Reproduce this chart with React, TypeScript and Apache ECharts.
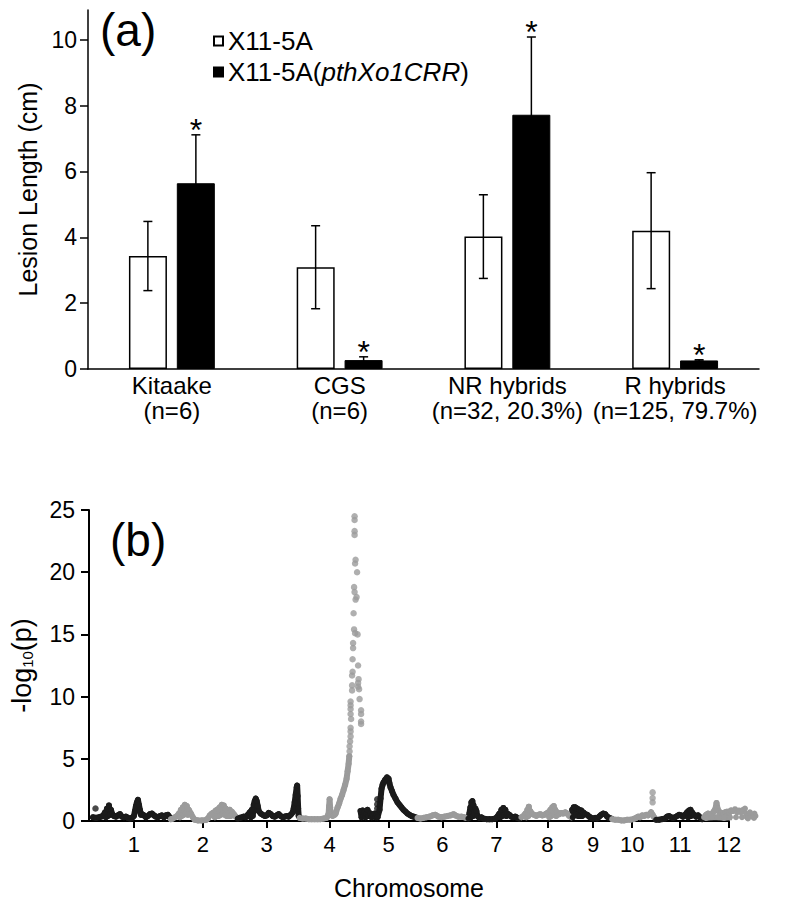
import React, { useEffect, useRef } from 'react';
import * as echarts from 'echarts';

const FONT = '"Liberation Sans", Arial, Helvetica, sans-serif';

// ---------- Panel (a): lesion length ----------
const CATEGORIES = ['Kitaake\n(n=6)', 'CGS\n(n=6)', 'NR hybrids\n(n=32, 20.3%)', 'R hybrids\n(n=125, 79.7%)'];
const SERIES_NAMES = ['X11-5A', 'X11-5A(pthXo1CRR)'];
const WT_MEAN = [3.43, 3.09, 4.02, 4.2];
const WT_ERR = [1.05, 1.26, 1.27, 1.76];
const MUT_MEAN = [5.64, 0.27, 7.72, 0.26];
const MUT_ERR = [1.47, 0.1, 2.36, 0.02];
const MUT_SIGNIFICANT = [true, true, true, true];
const Y_TICKS_A = [0, 2, 4, 6, 8, 10];

// ---------- Panel (b): association scan ----------
const CHROM_LABELS = ['1', '2', '3', '4', '5', '6', '7', '8', '9', '10', '11', '12'];
const CHROM_TICKS = [45, 114, 178, 241, 300, 354, 408, 459, 505, 544, 592, 641];
const Y_TICKS_B = [0, 5, 10, 15, 20, 25];

const CHR1 = [[4,0.3],[7,0.25],[10,0.3],[12,0.35],[14,0.4],[16,0.7],[17,0.3],[18,1.0],[19,0.4],[20,1.25],[21,0.5],[22,0.9],[23,0.6],[25,0.4],[27,0.35],[29,0.45],[31,0.55],[33,0.35],[35,0.3],[37,0.35],[39,0.25],[41,0.2],[43,0.25],[45,0.4],[46,0.8],[47,1.2],[48,1.5],[49,1.7],[50,1.3],[51,0.9],[52,0.5],[53,0.55],[55,0.45],[57,0.3],[59,0.4],[61,0.55],[63,0.6],[65,0.45],[67,0.35],[69,0.3],[71,0.4],[73,0.45],[75,0.3],[77,0.45],[79,0.5],[81,0.3]];
const CHR2 = [[82,0.15],[84,0.2],[86,0.3],[88,0.4],[90,0.6],[91,0.3],[92,0.9],[93,0.4],[94,1.1],[95,0.5],[96,1.3],[97,0.6],[98,1.2],[99,0.5],[100,0.9],[102,0.6],[104,0.3],[106,0.1],[109,0.05],[113,0.05],[117,0.08],[119,0.2],[121,0.45],[123,0.6],[125,0.7],[126,0.3],[127,0.85],[128,0.4],[129,0.95],[130,0.4],[131,1.1],[132,0.5],[133,1.3],[134,0.6],[135,1.25],[136,0.5],[137,1.0],[138,0.4],[139,0.8],[140,0.4],[141,0.9],[142,0.4],[143,0.75],[145,0.55],[147,0.35]];
const CHR3 = [[149,0.2],[151,0.25],[153,0.3],[155,0.35],[157,0.3],[159,0.5],[161,0.7],[162,0.3],[163,0.9],[164,0.4],[165,1.3],[166,1.6],[167,1.8],[168,1.6],[169,1.2],[170,0.8],[172,0.6],[174,0.5],[176,0.4],[178,0.45],[180,0.65],[182,0.55],[184,0.4],[186,0.35],[188,0.45],[190,0.55],[192,0.4],[194,0.3],[196,0.35],[198,0.4],[200,0.35],[202,0.5],[204,0.7],[205,1.0],[206,1.5],[207,2.1],[208,2.7],[208.5,2.85],[209,2.0],[209.5,1.0],[210,0.4]];
const CHR4 = [[211,0.25],[214,0.2],[217,0.2],[220,0.15],[223,0.15],[226,0.15],[229,0.15],[232,0.15],[235,0.2],[238,0.25],[240,0.6],[240.5,1.2],[241,1.75],[241.5,1.1],[242,0.5],[244,0.4],[246,0.5],[247,0.6],[249,1.1],[250.5,1.4],[252,1.8],[253.5,2.1],[255,2.5],[256.5,2.9],[258,3.4],[259,4.0],[260,4.6],[260.7,5.2]];
const CHR4_PEAK = [[261,5.6],[261,6.0],[261.5,6.4],[262,6.8],[262,7.2],[262,7.5],[262.5,8.2],[262,8.6],[262,9.0],[262,9.3],[262,9.6],[263.5,10.5],[263.5,10.9],[263.5,11.7],[264,12.0],[264,13.0],[264.5,13.9],[264.5,14.3],[265.5,15.4],[266.5,15.1],[265,16.7],[265.5,18.8],[266,18.4],[267,17.8],[268,18.0],[266.5,20.7],[267,21.0],[268.5,20.0],[266,23.0],[266,23.3],[266,24.2],[266,24.5],[269,15.0],[269.5,12.5],[270,11.4],[269.5,11.1],[269.5,10.8],[270.5,10.6],[271,9.8],[272.5,8.9],[272.5,8.6],[272.5,8.0],[272.5,7.8]];
const CHR5 = [[272,0.8],[273,0.3],[274,0.85],[275,0.4],[276,0.7],[277,0.3],[278,0.6],[279,0.9],[280,0.4],[282,0.6],[283,0.3],[284,0.5],[286,0.6],[287,0.3],[288,0.5],[289,0.3],[291,0.9],[292,1.8],[293,2.6],[294,2.9],[295,3.1],[296.5,3.3],[298.5,3.5],[300,3.4],[301,3.0],[302,2.7],[303.5,2.4],[305,2.1],[307,1.8],[309,1.5],[311,1.3],[313,1.1],[315,0.9],[317,0.75],[319,0.6],[321,0.5],[323,0.4],[325,0.35],[327,0.3]];
const CHR6 = [[329,0.25],[332,0.2],[335,0.25],[338,0.3],[341,0.35],[344,0.45],[347,0.5],[350,0.35],[353,0.3],[356,0.35],[359,0.4],[362,0.45],[365,0.55],[367,0.45],[370,0.35],[373,0.35],[376,0.3],[378,0.25]];
const CHR7 = [[380,0.2],[381,0.6],[382,1.1],[382.5,0.3],[383,1.5],[384,1.6],[384.5,0.4],[385,1.3],[386,0.6],[387,1.0],[388,0.8],[389,0.4],[391,0.25],[393,0.3],[395,0.2],[398,0.15],[401,0.15],[404,0.15],[407,0.2],[409,0.35],[411,0.6],[412,0.3],[413,0.9],[414,0.4],[415,1.05],[416,0.5],[417,0.9],[418,0.4],[419,0.6],[421,0.5],[423,0.35],[425,0.3],[427,0.35],[429,0.25],[431,0.2]];
const CHR8 = [[433,0.3],[435,0.4],[437,0.6],[438,0.3],[439,0.9],[440,0.4],[440.5,1.15],[441,0.5],[442,0.8],[444,0.55],[446,0.5],[448,0.4],[450,0.5],[452,0.55],[454,0.45],[456,0.5],[458,0.6],[460,0.7],[461,0.3],[462,0.9],[463,0.4],[464,1.1],[465,0.5],[465.5,1.2],[466,0.5],[467,0.9],[468,0.4],[469,0.7],[471,0.55],[473,0.65],[475,0.6],[477,0.7],[479,0.6],[481,0.4],[483,0.3]];
const CHR9 = [[484,0.9],[484.5,0.3],[485.5,1.1],[486,0.5],[487,1.1],[488,0.5],[489,1.0],[490,0.4],[491,0.9],[492,0.4],[493,0.85],[494,0.4],[495,0.7],[497,0.55],[499,0.5],[501,0.35],[503,0.25],[505,0.2],[507,0.25],[509,0.2],[511,0.35],[513,0.5],[515,0.6],[517,0.55],[519,0.35],[521,0.25],[523,0.2]];
const CHR10 = [[524,0.15],[527,0.1],[530,0.1],[533,0.05],[536,0.05],[539,0.1],[542,0.1],[545,0.15],[548,0.25],[550,0.35],[552,0.3],[554,0.45],[556,0.4],[558,0.5],[560,0.45],[562,0.6],[563,0.7],[564.5,0.5],[566,0.3]];
const CHR11 = [[568,0.1],[571,0.1],[574,0.15],[577,0.2],[579,0.35],[581,0.4],[583,0.3],[585,0.25],[587,0.3],[589,0.4],[591,0.5],[593,0.45],[595,0.35],[597,0.5],[599,0.7],[600,0.3],[601,0.85],[602,0.4],[602.5,0.9],[603,0.4],[604,0.7],[606,0.5],[608,0.35],[610,0.45],[612,0.3],[614,0.15]];
const CHR12 = [[616,0.3],[618,0.5],[620,0.6],[622,0.55],[624,0.6],[626,0.8],[627.5,1.0],[628.5,1.45],[629.5,1.0],[631,0.75],[633,0.65],[635,0.6],[637,0.7],[639,0.75],[641,0.7],[643,0.85],[645,0.8],[647,0.95],[649,0.7],[651,0.85],[653,0.7],[655,0.9],[657,1.0],[658,0.6],[659,0.3],[661,0.5],[662,0.7],[663,0.4],[665,0.35],[666.5,0.6],[667.5,0.4],[666,0.25],[660,0.2],[654,0.3],[648,0.3],[642,0.3],[636,0.25],[630,0.3],[624,0.3],[618,0.25]];
const DOTS_BLACK = [[6.5,1.0],[288.7,1.0],[288.7,1.35],[288.7,1.75]];
const DOTS_GRAY = [[564.5,1.5],[564.5,1.85],[564.5,2.3]];

const CHROMS = [CHR1, CHR2, CHR3, CHR4, CHR5, CHR6, CHR7, CHR8, CHR9, CHR10, CHR11, CHR12];

const BLACK = '#1b1b1b';
const GRAY = '#9b9b9b';
const BAR_OFFSET = 24;

function errorSeries(name: string, means: number[], errs: number[], offset: number, star: boolean[] | null) {
  return {
    type: 'custom',
    name: name + ' err',
    xAxisIndex: 0,
    yAxisIndex: 0,
    silent: true,
    z: 5,
    data: means.map((m, i) => [i, m - errs[i], m + errs[i], star && star[i] ? 1 : 0]),
    renderItem: (params: any, api: any) => {
      const idx = api.value(0);
      const top = api.coord([idx, api.value(2)]);
      const bot = api.coord([idx, api.value(1)]);
      const x = top[0] + offset;
      const st = { stroke: '#000', lineWidth: 1.5 };
      const children: any[] = [
        { type: 'line', shape: { x1: x, y1: top[1], x2: x, y2: bot[1] }, style: st },
        { type: 'line', shape: { x1: x - 4.5, y1: top[1], x2: x + 4.5, y2: top[1] }, style: st },
        { type: 'line', shape: { x1: x - 4.5, y1: bot[1], x2: x + 4.5, y2: bot[1] }, style: st },
      ];
      if (api.value(3) === 1) {
        children.push({
          type: 'text',
          x: x,
          y: top[1] - 5,
          style: { text: '*', fill: '#000', font: `32px ${FONT}`, align: 'center', verticalAlign: 'middle' },
        });
      }
      return { type: 'group', children };
    },
  };
}

export default function App() {
  const ref = useRef<HTMLDivElement>(null);
  useEffect(() => {
    if (!ref.current) return;
    const chart = echarts.init(ref.current, null, { renderer: 'svg' });

    const chromSeries = CHROMS.map((d, i) => {
      const c = i % 2 === 0 ? BLACK : GRAY;
      return {
        type: 'line',
        name: 'chr' + (i + 1),
        xAxisIndex: 1,
        yAxisIndex: 1,
        data: d,
        symbol: 'circle',
        symbolSize: 6,
        showSymbol: true,
        clip: false,
        silent: true,
        lineStyle: { color: c, width: 6, cap: 'round', join: 'round' },
        itemStyle: { color: c },
        z: 3,
      };
    });

    const option: any = {
      animation: false,
      textStyle: { fontFamily: FONT },
      grid: [
        { left: 88, right: 41, top: 10, height: 359, containLabel: false },
        { left: 88, right: 71, top: 510, height: 311, containLabel: false },
      ],
      legend: {
        data: SERIES_NAMES,
        orient: 'vertical',
        left: 208,
        top: 23,
        itemGap: 5,
        itemWidth: 9,
        itemHeight: 9,
        icon: 'rect',
        selectedMode: false,
        formatter: (name: string) =>
          name === SERIES_NAMES[1] ? '{n|X11-5A(}{i|pthXo1CRR}{n|)}' : '{n|' + name + '}',
        textStyle: {
          color: '#000',
          rich: {
            n: { fontSize: 26, fontFamily: FONT, color: '#000' },
            i: { fontSize: 26, fontFamily: FONT, fontStyle: 'italic', color: '#000' },
          },
        },
      },
      graphic: [
        { type: 'text', left: 100, top: 7, style: { text: '(a)', font: `46px ${FONT}`, fill: '#000' } },
        { type: 'text', left: 110, top: 517, style: { text: '(b)', font: `46px ${FONT}`, fill: '#000' } },
      ],
      xAxis: [
        {
          type: 'category',
          gridIndex: 0,
          data: CATEGORIES,
          axisLine: { show: true, lineStyle: { color: '#000', width: 1.5 } },
          axisTick: { show: false },
          axisLabel: { interval: 0, fontSize: 24, lineHeight: 25, margin: 4, color: '#000', fontFamily: FONT },
          splitLine: { show: false },
        },
        {
          type: 'value',
          gridIndex: 1,
          min: 0,
          max: 641,
          axisLine: { show: true, onZero: false, lineStyle: { color: '#000', width: 2 } },
          axisTick: { show: true, customValues: CHROM_TICKS, length: 7, lineStyle: { color: '#000', width: 2 } },
          axisLabel: {
            customValues: CHROM_TICKS,
            formatter: (v: number) => CHROM_LABELS[CHROM_TICKS.indexOf(v)] ?? '',
            fontSize: 22,
            margin: 12,
            color: '#000',
            fontFamily: FONT,
          },
          splitLine: { show: false },
          name: 'Chromosome',
          nameLocation: 'middle',
          nameGap: 54,
          nameTextStyle: { fontSize: 25, color: '#000', fontFamily: FONT },
        },
      ],
      yAxis: [
        {
          type: 'value',
          gridIndex: 0,
          min: 0,
          max: 10.9,
          axisLine: { show: true, lineStyle: { color: '#000', width: 1.5 } },
          axisTick: { show: true, customValues: Y_TICKS_A, length: 8, lineStyle: { color: '#000', width: 1.5 } },
          axisLabel: { customValues: Y_TICKS_A, fontSize: 23, margin: 11, color: '#000', fontFamily: FONT },
          splitLine: { show: false },
          name: 'Lesion Length (cm)',
          nameLocation: 'middle',
          nameGap: 46,
          nameTextStyle: { fontSize: 25, color: '#000', fontFamily: FONT },
        },
        {
          type: 'value',
          gridIndex: 1,
          min: 0,
          max: 25,
          interval: 5,
          axisLine: { show: true, lineStyle: { color: '#000', width: 2 } },
          axisTick: { show: true, customValues: Y_TICKS_B, length: 8, lineStyle: { color: '#000', width: 2 } },
          axisLabel: { customValues: Y_TICKS_B, fontSize: 23, margin: 14, color: '#000', fontFamily: FONT },
          splitLine: { show: false },
          name: '{a|-log}{s|10}{a|(p)}',
          nameLocation: 'middle',
          nameGap: 54,
          nameTextStyle: {
            color: '#000',
            rich: {
              a: { fontSize: 27, fontFamily: FONT, color: '#000' },
              s: { fontSize: 15, fontFamily: FONT, color: '#000', padding: [12, 0, 0, 0] },
            },
          },
        },
      ],
      series: [
        {
          type: 'bar',
          name: SERIES_NAMES[0],
          xAxisIndex: 0,
          yAxisIndex: 0,
          data: WT_MEAN,
          barWidth: 38,
          barGap: '26%',
          itemStyle: { color: '#fff', borderColor: '#000', borderWidth: 1.5 },
          silent: true,
        },
        {
          type: 'bar',
          name: SERIES_NAMES[1],
          xAxisIndex: 0,
          yAxisIndex: 0,
          data: MUT_MEAN,
          barWidth: 38,
          barGap: '26%',
          itemStyle: { color: '#000', borderColor: '#000', borderWidth: 1 },
          silent: true,
        },
        errorSeries(SERIES_NAMES[0], WT_MEAN, WT_ERR, -BAR_OFFSET, null),
        errorSeries(SERIES_NAMES[1], MUT_MEAN, MUT_ERR, BAR_OFFSET, MUT_SIGNIFICANT),
        ...chromSeries,
        {
          type: 'scatter',
          name: 'chr4 peak',
          xAxisIndex: 1,
          yAxisIndex: 1,
          data: CHR4_PEAK,
          symbolSize: 6.5,
          itemStyle: { color: GRAY },
          silent: true,
          z: 4,
        },
        {
          type: 'scatter',
          name: 'black dots',
          xAxisIndex: 1,
          yAxisIndex: 1,
          data: DOTS_BLACK,
          symbolSize: 6.5,
          itemStyle: { color: BLACK },
          silent: true,
          z: 4,
        },
        {
          type: 'scatter',
          name: 'gray dots',
          xAxisIndex: 1,
          yAxisIndex: 1,
          data: DOTS_GRAY,
          symbolSize: 6.5,
          itemStyle: { color: GRAY },
          silent: true,
          z: 4,
        },
      ],
    };
    chart.setOption(option);
    return () => chart.dispose();
  }, []);

  return (
    <div
      ref={ref}
      style={{ position: 'absolute', left: 0, top: 0, width: 800, height: 911, background: '#fff' }}
    />
  );
}
